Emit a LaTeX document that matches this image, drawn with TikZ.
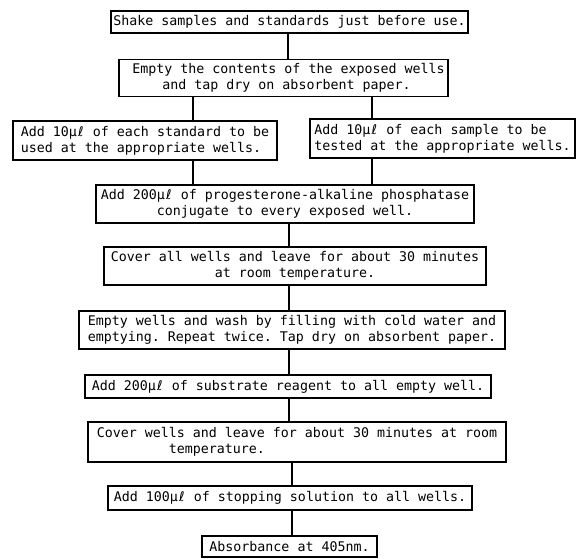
\documentclass[tikz,border=0pt]{standalone}
\usepackage{fontspec}
\setmonofont{DejaVu Sans Mono}
\newfontfamily\ellfont{DejaVu Sans}
\newcommand\myell{\makebox[0.602em]{\ellfont ℓ}}
\newcommand\mul{µ\myell}
\begin{document}
\begin{tikzpicture}[x=1pt,y=-1pt,
  box/.style={draw, line width=1.1pt, inner sep=0pt, align=center,
    font=\ttfamily\fontsize{13.3}{16}\selectfont},
  lbox/.style={box, align=left},
  link/.style={line width=1.1pt}]
\useasboundingbox (0,0) rectangle (581,558);

\node[box, minimum width=357pt, minimum height=22pt] (b1) at (289.5,22)
  {Shake samples and standards just before use.};
\node[box, minimum width=329pt, minimum height=37pt] (b2) at (283.5,78)
  {\hspace*{10pt}Empty the contents of the exposed wells\\\hspace*{6pt}and tap dry on absorbent paper.};
\node[lbox, minimum width=264pt, minimum height=39pt] (l) at (145,140.5)
  {Add 10\mul{} of each standard to be\\used at the appropriate wells.};
\node[lbox, minimum width=265pt, minimum height=39pt] (r) at (442.5,138.5)
  {Add 10\mul{} of each sample to be\\tested at the appropriate wells.};
\node[box, minimum width=378pt, minimum height=38pt] (p) at (285,204)
  {Add 200\mul{} of progesterone-alkaline phosphatase\\conjugate to every exposed well.};
\node[box, minimum width=382pt, minimum height=38pt] (c1) at (295,266)
  {Cover all wells and leave for about 30 minutes\\at room temperature.};
\node[box, minimum width=426pt, minimum height=38pt] (e) at (292,330)
  {Empty wells and wash by filling with cold water and\\emptying. Repeat twice. Tap dry on absorbent paper.};
\node[box, minimum width=406pt, minimum height=23pt] (s) at (288,386.5)
  {Add 200\mul{} of substrate reagent to all empty well.};
\node[lbox, minimum width=418pt, minimum height=40pt] (cw) at (297,442)
  {Cover wells and leave for about 30 minutes at room\\\hspace*{72pt}temperature.};
\node[box, minimum width=364pt, minimum height=24pt] (st) at (290,498)
  {Add 100\mul{} of stopping solution to all wells.};
\node[box, minimum width=175pt, minimum height=21pt] (a) at (289.5,546.5)
  {Absorbance at 405nm.};

\coordinate (xa) at (288,0);
\coordinate (xl) at (193,0);
\coordinate (xr) at (372,0);
\coordinate (xm) at (289,0);
\coordinate (xb) at (292,0);

\draw[link] (b1.south -| xa) -- (b2.north -| xa);
\draw[link] (b2.south -| xl) -- (l.north -| xl);
\draw[link] (b2.south -| xr) -- (r.north -| xr);
\draw[link] (l.south -| xl) -- (p.north -| xl);
\draw[link] (r.south -| xr) -- (p.north -| xr);
\draw[link] (p.south -| xm) -- (c1.north -| xm);
\draw[link] (c1.south -| xm) -- (e.north -| xm);
\draw[link] (e.south -| xm) -- (s.north -| xm);
\draw[link] (s.south -| xm) -- (cw.north -| xm);
\draw[link] (cw.south -| xb) -- (st.north -| xb);
\draw[link] (st.south -| xb) -- (a.north -| xb);
\end{tikzpicture}
\end{document}
